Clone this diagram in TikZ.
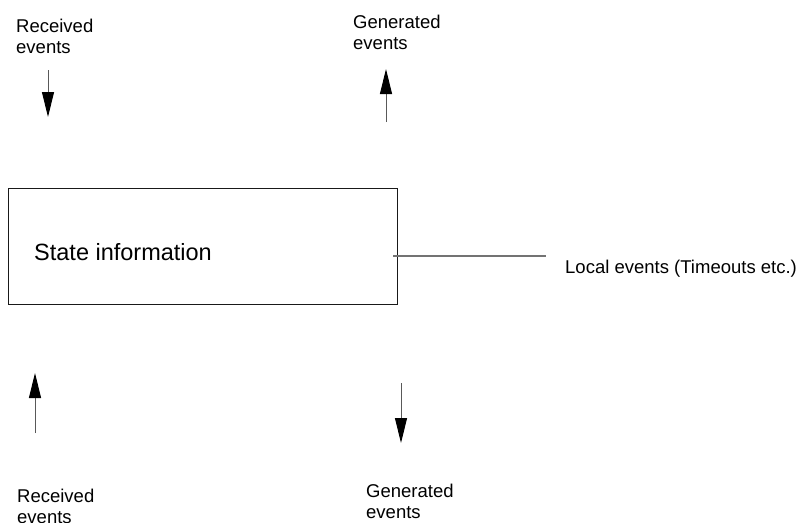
\documentclass[tikz,border=0pt]{standalone}
\usepackage{fontspec}
\setmainfont{Liberation Sans}
\usetikzlibrary{arrows.meta}

\tikzset{
  lbl/.style={inner sep=0pt, align=left, font=\fontsize{18.5pt}{20.5pt}\selectfont},
  biglbl/.style={inner sep=0pt, font=\fontsize{23.5pt}{26pt}\selectfont},
  statebox/.style={draw=black!90, line width=1pt, inner sep=0pt, rectangle},
  evarrow/.style={draw=black!65, line width=1pt,
    -{Triangle[length=25pt, width=12pt, color=black]}},
  tickline/.style={draw=black!55, line width=1.4pt}
}

\begin{document}
\begin{tikzpicture}[x=1pt, y=-1pt]
  \useasboundingbox (0,0) rectangle (800,522);

  % central state box
  \node[statebox, minimum width=389pt, minimum height=116pt, anchor=north west]
    (state) at (8,188) {};
  \node[biglbl, anchor=base west] (statelbl) at (34,260) {State information};

  % local events feed
  \coordinate (locin) at (393,256);
  \coordinate (locout) at (546,256);
  \draw[tickline] (locin) -- (locout);
  \node[lbl, anchor=base west] (local) at (565,273) {Local events (Timeouts etc.)};

  % upper labels
  \node[lbl, anchor=north west] (recvtop) at (16,19) {Received\\events};
  \node[lbl, anchor=north west] (gentop) at (353,15) {Generated\\events};

  % lower labels
  \node[lbl, anchor=north west] (recvbot) at (17,489) {Received\\events};
  \node[lbl, anchor=north west] (genbot) at (366,484) {Generated\\events};

  % arrow end points
  \coordinate (a1s) at (48,70);   \coordinate (a1e) at (48,117);
  \coordinate (a2s) at (386,122); \coordinate (a2e) at (386,69);
  \coordinate (a3s) at (35,433);  \coordinate (a3e) at (35,373);
  \coordinate (a4s) at (401,383); \coordinate (a4e) at (401,443);

  \draw[evarrow] (a1s) -- (a1e);
  \draw[evarrow] (a2s) -- (a2e);
  \draw[evarrow] (a3s) -- (a3e);
  \draw[evarrow] (a4s) -- (a4e);
\end{tikzpicture}
\end{document}
